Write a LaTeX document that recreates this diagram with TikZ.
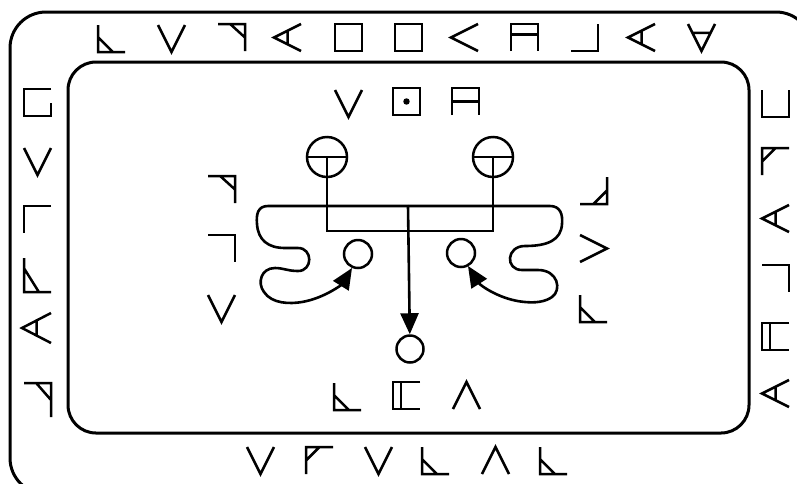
\documentclass[tikz,border=0pt]{standalone}
\usetikzlibrary{arrows.meta}
\tikzset{
  glyph/.style={line width=2.5pt, line cap=butt, line join=miter, miter limit=10},
  frame/.style={line width=3pt},
  conn/.style={line width=2.6pt},
  ring/.style={circle, draw, line width=2.5pt, inner sep=0pt},
  tipped/.style={-{Triangle[length=21pt,width=18pt]}},
  gV/.pic={\draw[glyph] (0,0)--(0.5,1)--(1,0);},
  gA/.pic={\draw[glyph] (0,1)--(0.5,0)--(1,1);},
  gLt/.pic={\draw[glyph] (0,0)--(0,1)--(1,1) (0,0.45)--(0.55,1);},
  gLtt/.pic={\draw[glyph] (0,0)--(0,1)--(1,1) (0,0.3)--(0.55,1);},
  gRt/.pic={\draw[glyph] (0,0)--(1,0)--(1,1) (0.45,0)--(1,0.5);},
  gFt/.pic={\draw[glyph] (1,0)--(0,0)--(0,1) (0,0.5)--(0.5,0);},
  gJt/.pic={\draw[glyph] (1,0)--(1,1)--(0,1) (0.5,1)--(1,0.5);},
  gLess/.pic={\draw[glyph] (1,0)--(0,0.5)--(1,1);},
  gMore/.pic={\draw[glyph] (0,0)--(1,0.5)--(0,1);},
  gLessBar/.pic={\draw[glyph] (1,0)--(0,0.5)--(1,1) (0.5,0.25)--(0.5,0.75);},
  gVBar/.pic={\draw[glyph] (0,0)--(0.5,1)--(1,0) (0.16,0.33)--(0.84,0.33);},
  gSq/.pic={\draw[glyph] (0,0) rectangle (1,1);},
  gSqDot/.pic={\draw[glyph] (0,0) rectangle (1,1); \fill (0.5,0.5) circle[radius=0.12];},
  gArch/.pic={\draw[glyph] (0,1)--(0,0)--(1,0)--(1,1) (0,0.38)--(1,0.38);},
  gArchB/.pic={\draw[glyph] (0,1)--(0,0)--(1,0)--(1,1) (0,0.5)--(1,0.5);},
  gBrk/.pic={\draw[glyph] (1,0)--(0,0)--(0,1)--(1,1) (0.3,0)--(0.3,1);},
  gJ/.pic={\draw[glyph] (1,0)--(1,1)--(0,1);},
  gR/.pic={\draw[glyph] (0,0)--(1,0)--(1,1);},
  gF/.pic={\draw[glyph] (1,0)--(0,0)--(0,1);},
  gU/.pic={\draw[glyph] (0,0)--(0,1)--(1,1)--(1,0);},
  gBox/.pic={\draw[glyph] (1,0)--(0,0)--(0,1)--(1,1)--(1,0.5);},
}
\newcommand{\G}[3]{\pic[xscale=27,yscale=27] at (#2,#3) {#1};}
\newcommand{\GT}[3]{\pic[xscale=27,yscale=34] at (#2,#3) {#1};}
\begin{document}
\begin{tikzpicture}[x=1pt,y=-1pt]
\useasboundingbox (0,0) rectangle (797,483);
\clip (0,0) rectangle (797,483);
% frames
\draw[frame, rounded corners=36pt] (10,12) rectangle (812,494);
\draw[frame, rounded corners=28pt] (68,62) rectangle (749,433);
% top row
\G{gLt}{98}{25}
\G{gV}{158}{25}
\G{gRt}{218}{24}
\G{gLessBar}{274}{24}
\G{gSq}{335}{24}
\G{gSq}{395}{24}
\G{gLess}{451}{24}
\G{gArch}{511}{24}
\G{gJ}{571}{24}
\G{gLessBar}{628}{24}
\G{gVBar}{688}{24}
% bottom row
\G{gV}{247}{447}
\G{gFt}{306}{447}
\G{gV}{365}{447}
\G{gLt}{422}{447}
\G{gA}{482}{447}
\G{gLt}{540}{447}
% left column
\G{gBox}{24}{89}
\G{gV}{24}{148}
\G{gF}{24}{206}
\GT{gLtt}{24}{258}
\pic[xscale=29,yscale=30] at (22,313) {gLessBar};
\GT{gRt}{24}{383}
% right column
\G{gU}{762}{90}
\G{gFt}{762}{148}
\G{gLessBar}{762}{205}
\G{gR}{762}{265}
\G{gBrk}{762}{323}
\G{gLessBar}{762}{380}
% inner top text
\G{gV}{335}{90}
\G{gSqDot}{393}{88}
\G{gArchB}{452}{88}
% inner bottom text
\G{gLt}{334}{383}
\G{gBrk}{393}{382}
\G{gA}{453}{382}
% inner left column
\G{gRt}{208}{176}
\G{gR}{208}{235}
\G{gV}{208}{295}
% inner right column
\G{gJt}{580}{177}
\G{gMore}{580}{235}
\G{gLt}{580}{295}
% rings
\node[ring, minimum size=40pt] (tl) at (327,157) {};
\node[ring, minimum size=40pt] (tr) at (493,157) {};
\node[ring, minimum size=28pt] (cl) at (358,254) {};
\node[ring, minimum size=28pt] (cr) at (461,253) {};
\node[ring, minimum size=27pt] (cb) at (410,349) {};
\draw[conn] (tl.west) -- (tl.east);
\draw[conn] (tr.west) -- (tr.east);
\coordinate (hub) at (408,206);
\coordinate (ll) at (327,231);
\coordinate (lr) at (493,231);
\draw[conn] (tl.center) -- (ll) -- (lr) -- (tr.center);
\draw[conn, tipped] (hub) -- (cb);
% left squiggle
\draw[conn, tipped] (hub) -- (268,206)
  .. controls (258,206) and (256,214) .. (257,224)
  .. controls (258,240) and (268,248) .. (285,248)
  -- (298,248)
  .. controls (313,248) and (313,271) .. (298,271)
  .. controls (288,271) and (283,268) .. (275,268)
  .. controls (261,268) and (257,283) .. (264,292)
  .. controls (272,304) and (290,304) .. (302,302)
  .. controls (325,298) and (342,284) .. (352,268);
% right squiggle
\draw[conn, tipped] (hub) -- (550,206)
  .. controls (560,206) and (563,214) .. (562,224)
  .. controls (561,240) and (548,246) .. (525,246)
  .. controls (506,246) and (505,270) .. (522,270)
  -- (538,270)
  .. controls (558,270) and (562,290) .. (552,297)
  .. controls (545,302) and (535,303) .. (525,302)
  .. controls (500,300) and (480,285) .. (468,266);
\end{tikzpicture}
\end{document}
